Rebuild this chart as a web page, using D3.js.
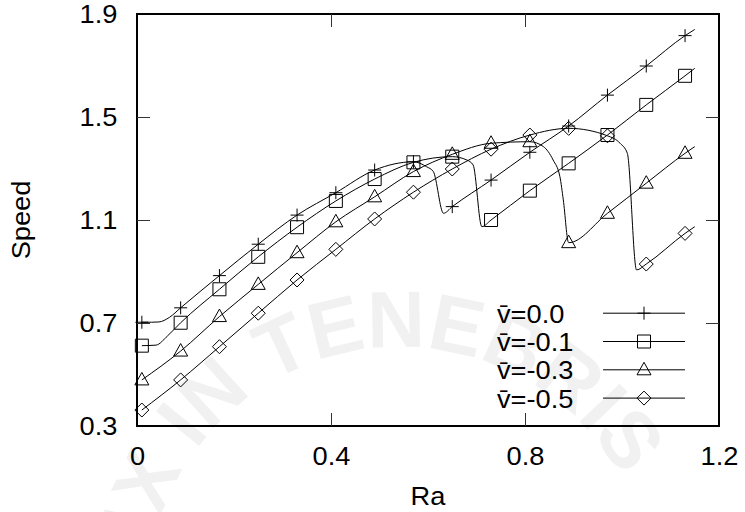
<html>
<script src='https://d3js.org/d3.v7.min.js'></script>
<style>
body {margin: 0; background: white;}
text {font-family: "Liberation Sans", Arial, sans-serif; font-size: 25px; fill: black;}
</style>
<body>
<svg width=745 height=512></svg>
<script>
// chart values
var xTicks = [0, 0.4, 0.8, 1.2];
var yTicks = [0.3, 0.7, 1.1, 1.5, 1.9];
var markRa = [0.01, 0.09, 0.17, 0.25, 0.33, 0.41, 0.49, 0.57, 0.65, 0.73, 0.81, 0.89, 0.97, 1.05, 1.13];
var labels = ["v\u0304=0.0", "v\u0304=-0.1", "v\u0304=-0.3", "v\u0304=-0.5"];

var ra00 = [0.01, 0.03, 0.045, 0.067, 0.09, 0.17, 0.25, 0.33, 0.41, 0.49, 0.57, 0.597, 0.611, 0.632, 0.65, 0.73, 0.81, 0.89, 0.97, 1.05, 1.13, 1.15];
var sp00 = [0.703, 0.703, 0.704, 0.722, 0.759, 0.884, 1.006, 1.119, 1.206, 1.294, 1.326, 1.307, 1.288, 1.126, 1.152, 1.255, 1.363, 1.465, 1.585, 1.698, 1.816, 1.84];

var ra01 = [0.01, 0.039, 0.063, 0.09, 0.17, 0.25, 0.33, 0.41, 0.49, 0.57, 0.65, 0.68, 0.693, 0.711, 0.73, 0.81, 0.89, 0.97, 1.05, 1.13, 1.15];
var sp01 = [0.612, 0.614, 0.65, 0.701, 0.831, 0.957, 1.072, 1.174, 1.259, 1.324, 1.346, 1.333, 1.314, 1.074, 1.100, 1.214, 1.320, 1.430, 1.547, 1.660, 1.689];

var ra03 = [0.01, 0.09, 0.17, 0.25, 0.33, 0.41, 0.49, 0.57, 0.65, 0.73, 0.81, 0.838, 0.858, 0.872, 0.879, 0.89, 0.97, 1.05, 1.13, 1.15];
var sp03 = [0.479, 0.591, 0.725, 0.850, 0.973, 1.093, 1.190, 1.288, 1.355, 1.398, 1.404, 1.385, 1.333, 1.268, 1.178, 1.012, 1.126, 1.243, 1.359, 1.385];

var ra05 = [0.01, 0.09, 0.17, 0.25, 0.33, 0.41, 0.49, 0.57, 0.65, 0.73, 0.81, 0.89, 0.97, 0.996, 1.011, 1.03, 1.05, 1.13, 1.15];
var sp05 = [0.362, 0.479, 0.608, 0.738, 0.867, 0.986, 1.104, 1.208, 1.298, 1.375, 1.43, 1.456, 1.427, 1.398, 1.359, 0.906, 0.929, 1.048, 1.074];

var raAll = [ra00, ra01, ra03, ra05];
var spAll = [sp00, sp01, sp03, sp05];
var shapes = ["plus", "square", "triangle", "diamond"];

var pL = 137, pR = 719, pT = 14, pB = 426;
var sx = 1.09; // text in the picture is a bit wider than tall

var svg = d3.select("svg");
var x = d3.scaleLinear().domain([0, 1.2]).range([pL, pR]);
var y = d3.scaleLinear().domain([0.3, 1.9]).range([pB, pT]);

// faint watermark
var wm = svg.append("g");
wm.append("path").attr("id", "arc")
  .attr("d", function() {
      var cx = 400, cy = 600, r = 253;
      var a0 = -185 * Math.PI / 180, a1 = 30 * Math.PI / 180;
      return "M" + (cx + r * Math.cos(a0)) + "," + (cy + r * Math.sin(a0)) +
             " A" + r + "," + r + " 0 1 1 " + (cx + r * Math.cos(a1)) + "," + (cy + r * Math.sin(a1));
  })
  .attr("fill", "none");
wm.append("text")
  .style("font-size", "80px").style("font-weight", "bold").style("fill", "#f1f1f1")
  .append("textPath").attr("href", "#arc")
  .text("LUX IN TENEBRIS");

function marker(type) {
    if (type == "plus") return "M-6.5,0H6.5M0,-6.5V6.5";
    if (type == "square") return "M-6.5,-6.5H6.5V6.5H-6.5Z";
    if (type == "triangle") return "M0,-7.5L7,5H-7Z";
    return "M0,-7L7,0L0,7L-7,0Z";
}

// frame
svg.append("rect").attr("x", pL).attr("y", pT)
   .attr("width", pR - pL).attr("height", pB - pT)
   .attr("fill", "none").attr("stroke", "black").attr("stroke-width", 2);

// axes with inward ticks on every side
var axL = svg.append("g").attr("transform", "translate(" + pL + ",0)")
   .call(d3.axisLeft(y).tickValues(yTicks).tickFormat(d3.format(".1f")).tickSizeInner(-13).tickSizeOuter(0).tickPadding(18));
var axB = svg.append("g").attr("transform", "translate(0," + pB + ")")
   .call(d3.axisBottom(x).tickValues(xTicks).tickFormat(function(d) { return d == 0 ? "0" : d3.format(".1f")(d); })
   .tickSizeInner(-13).tickSizeOuter(0).tickPadding(21));
var axR = svg.append("g").attr("transform", "translate(" + pR + ",0)")
   .call(d3.axisRight(y).tickValues(yTicks).tickFormat("").tickSizeInner(-13).tickSizeOuter(0));
var axT = svg.append("g").attr("transform", "translate(0," + pT + ")")
   .call(d3.axisTop(x).tickValues(xTicks).tickFormat("").tickSizeInner(-13).tickSizeOuter(0));

[axL, axB, axR, axT].forEach(function(a) {
    a.select(".domain").remove();
    a.selectAll("line").attr("stroke", "#333");
    a.selectAll("text").style("font-size", "25px").attr("fill", "black")
     .attr("transform", "scale(" + sx + ",1)");
});
// keep the end ticks out of the corners
axL.selectAll(".tick").filter(function(d) { return d == 0.3 || d == 1.9; }).select("line").remove();
axR.selectAll(".tick").filter(function(d) { return d == 0.3 || d == 1.9; }).select("line").remove();
axB.selectAll(".tick").filter(function(d) { return d == 0 || d == 1.2; }).select("line").remove();
axT.selectAll(".tick").filter(function(d) { return d == 0 || d == 1.2; }).select("line").remove();

// series
var line = d3.line().curve(d3.curveMonotoneX)
    .x(function(d) { return x(d[0]); })
    .y(function(d) { return y(d[1]); });

raAll.forEach(function(raS, i) {
    var pts = raS.map(function(r, j) { return [r, spAll[i][j]]; });
    svg.append("path").datum(pts).attr("d", line)
       .attr("fill", "none").attr("stroke", "black").attr("stroke-width", 1);
    svg.append("g").selectAll("path")
       .data(pts.filter(function(p) { return markRa.some(function(m) { return Math.abs(m - p[0]) < 1e-9; }); }))
       .enter().append("path")
       .attr("transform", function(p) { return "translate(" + x(p[0]) + "," + y(p[1]) + ")"; })
       .attr("d", marker(shapes[i]))
       .attr("fill", "none").attr("stroke", "black").attr("stroke-width", 1);
});

// legend
var leg = svg.append("g");
labels.forEach(function(lab, i) {
    var base = 322.7 + i * 28.3;
    leg.append("text").attr("transform", "translate(497," + base + ") scale(" + sx + ",1)").text(lab);
    leg.append("line").attr("x1", 603).attr("x2", 685).attr("y1", base - 9.5).attr("y2", base - 9.5)
       .attr("stroke", "black");
    leg.append("path").attr("transform", "translate(644," + (base - 9.5) + ")").attr("d", marker(shapes[i]))
       .attr("fill", "none").attr("stroke", "black");
});

// axis titles
svg.append("text").attr("transform", "translate(" + ((pL + pR) / 2) + ",505) scale(" + sx + ",1)")
   .style("text-anchor", "middle").text("Ra");
svg.append("text").attr("transform", "translate(30," + ((pT + pB) / 2) + ") rotate(-90) scale(" + sx + ",1)")
   .style("text-anchor", "middle").text("Speed");
</script>
</body>
</html>
